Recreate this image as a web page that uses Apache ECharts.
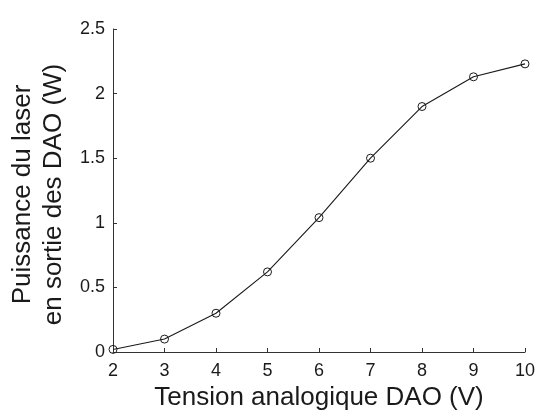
<!DOCTYPE html>
<html>
<head>
<meta charset="utf-8">
<script src="https://cdn.jsdelivr.net/npm/echarts@6/dist/echarts.min.js"></script>
<style>
  html, body { margin: 0; padding: 0; background: #fff; }
  #chart { width: 541px; height: 410px; }
</style>
</head>
<body>
<div id="chart"></div>
<script>
  // Tension DAO (V) vs puissance laser (W)
  var tension = [2, 3, 4, 5, 6, 7, 8, 9, 10];
  var puissance = [0.02, 0.10, 0.30, 0.62, 1.04, 1.50, 1.90, 2.13, 2.23];

  var points = tension.map(function (v, i) { return [v, puissance[i]]; });

  var chart = echarts.init(document.getElementById('chart'));
  var axisColor = '#333';
  var textColor = '#1a1a1a';
  var font = 'Liberation Sans, Arial, sans-serif';

  chart.setOption({
    animation: false,
    grid: { left: 113, right: 16, top: 29, bottom: 58, outerBoundsMode: 'none' },
    xAxis: {
      type: 'value',
      min: 2, max: 10, interval: 1,
      name: 'Tension analogique DAO (V)',
      nameLocation: 'middle',
      nameGap: 33,
      nameTextStyle: { fontFamily: font, fontSize: 26, color: textColor },
      axisLine: { lineStyle: { color: axisColor, width: 1 } },
      axisTick: { inside: true, length: 4, lineStyle: { color: axisColor } },
      axisLabel: { fontFamily: font, fontSize: 18, color: textColor, margin: 10 },
      splitLine: { show: false }
    },
    yAxis: {
      type: 'value',
      min: 0, max: 2.5, interval: 0.5,
      name: 'Puissance du laser\nen sortie des DAO (W)',
      nameLocation: 'middle',
      nameGap: 37,
      nameTextStyle: {
        fontFamily: font, fontSize: 26, color: textColor, lineHeight: 31,
        padding: [0, 8, 0, 0]
      },
      axisLine: { show: true, lineStyle: { color: axisColor, width: 1 } },
      axisTick: { show: true, inside: true, length: 4, lineStyle: { color: axisColor } },
      axisLabel: { fontFamily: font, fontSize: 18, color: textColor, margin: 8 },
      splitLine: { show: false }
    },
    series: [{
      type: 'line',
      data: points,
      symbol: 'circle',
      symbolSize: 8,
      itemStyle: { color: 'transparent', borderColor: '#1a1a1a', borderWidth: 1 },
      lineStyle: { color: '#1a1a1a', width: 1.1 }
    }]
  });
</script>
</body>
</html>
